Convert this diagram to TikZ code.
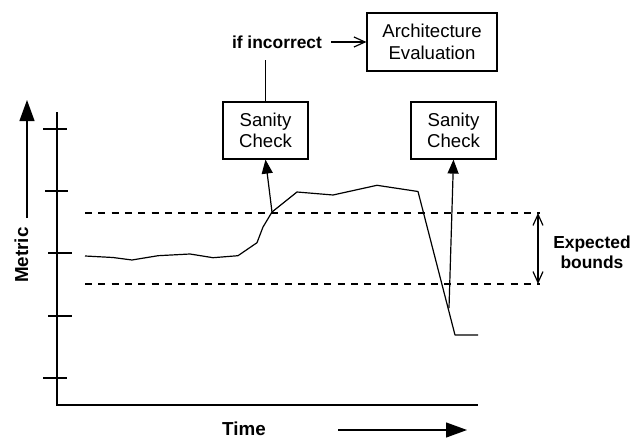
\documentclass[tikz,border=0pt]{standalone}
\usepackage{fontspec}
\setmainfont{Liberation Sans}
\usetikzlibrary{arrows.meta}

\tikzset{
  base/.style={line width=1.2pt, line cap=butt},
  box/.style={draw, line width=1.2pt, inner sep=0pt, align=center,
    font=\fontsize{18.6}{21.5}\selectfont},
  boldlabel/.style={inner sep=0pt, align=center,
    font=\fontsize{17.4}{20}\selectfont\bfseries},
  axislabel/.style={inner sep=0pt, font=\fontsize{18.8}{22}\selectfont\bfseries},
  bigtip/.style={-{Triangle[length=21pt,width=15pt]}},
  smalltip/.style={-{Triangle[length=14pt,width=11pt]}},
  opentip/.style={-{Straight Barb[length=11pt,width=10pt,line width=1.2pt]}},
  bothopen/.style={{Straight Barb[length=11pt,width=10pt,line width=1.2pt]}-{Straight Barb[length=11pt,width=10pt,line width=1.2pt]}},
  bound/.style={line width=1.2pt, dash pattern=on 7pt off 6.3pt},
}

\begin{document}
\begin{tikzpicture}[x=1pt,y=-1pt]
\useasboundingbox (0,0) rectangle (630,439);

% axes
\coordinate (ytop) at (57,112);
\coordinate (origin) at (57,405);
\coordinate (xend) at (478,405);
\draw[base] (ytop) -- (origin) -- (xend);

% tick marks on the metric axis
\draw[base] (43,129) -- (67,129);
\draw[base] (45,191) -- (68,191);
\draw[base] (48,253) -- (72,253);
\draw[base] (48,316) -- (72,316);
\draw[base] (43,378) -- (67,378);

% axis labels and direction arrows
\node[axislabel, rotate=90] (metric) at (21.5,255) {Metric};
\coordinate (mfoot) at (27,218);
\coordinate (mhead) at (27,100);
\draw[base, bigtip] (mfoot) -- (mhead);

\node[axislabel] (time) at (244,429) {Time};
\coordinate (tfoot) at (338,430);
\coordinate (thead) at (467,430);
\draw[base, bigtip] (tfoot) -- (thead);

% expected bounds
\coordinate (ub0) at (85,213);
\coordinate (ub1) at (540,213);
\coordinate (lb0) at (85,284);
\coordinate (lb1) at (540,284);
\draw[bound] (ub0) -- (ub1);
\draw[bound] (lb0) -- (lb1);
\coordinate (bt) at (538,213);
\coordinate (bb) at (538,284);
\draw[base, bothopen] (bt) -- (bb);
\node[boldlabel] (bounds) at (592,252) {Expected\\bounds};

% measured metric over time
\draw[line width=1.2pt, line join=round]
  (85,256) -- (113,257.5) -- (132,260) -- (158,255.7) -- (190,254)
  -- (213,257.7) -- (238,255.7) -- (257,242.7) -- (263,227) -- (272,212)
  -- (297,192) -- (333,195) -- (377,185.3) -- (418,191.5)
  -- (455,335) -- (478,335);

% sanity checks
\node[box, minimum width=85pt, minimum height=57pt] (sc1) at (265.5,130.5) {Sanity\\Check};
\node[box, minimum width=85pt, minimum height=57pt] (sc2) at (453.5,130.5) {Sanity\\Check};
\node[box, minimum width=130pt, minimum height=58pt] (arch) at (432,42) {Architecture\\Evaluation};

\coordinate (cross1) at (272,212);
\coordinate (cross2) at (449,308);
\draw[base, smalltip] (cross1) -- (sc1.south);
\draw[base, smalltip] (cross2) -- (sc2.south);

% escalation path
\node[boldlabel] (incorrect) at (277,42) {if incorrect};
\coordinate (stem) at (sc1.north |- 0,60);
\draw[base] (sc1.north) -- (stem);
\draw[base, opentip] ([xshift=9pt]incorrect.east) -- (arch.west);
\end{tikzpicture}
\end{document}
